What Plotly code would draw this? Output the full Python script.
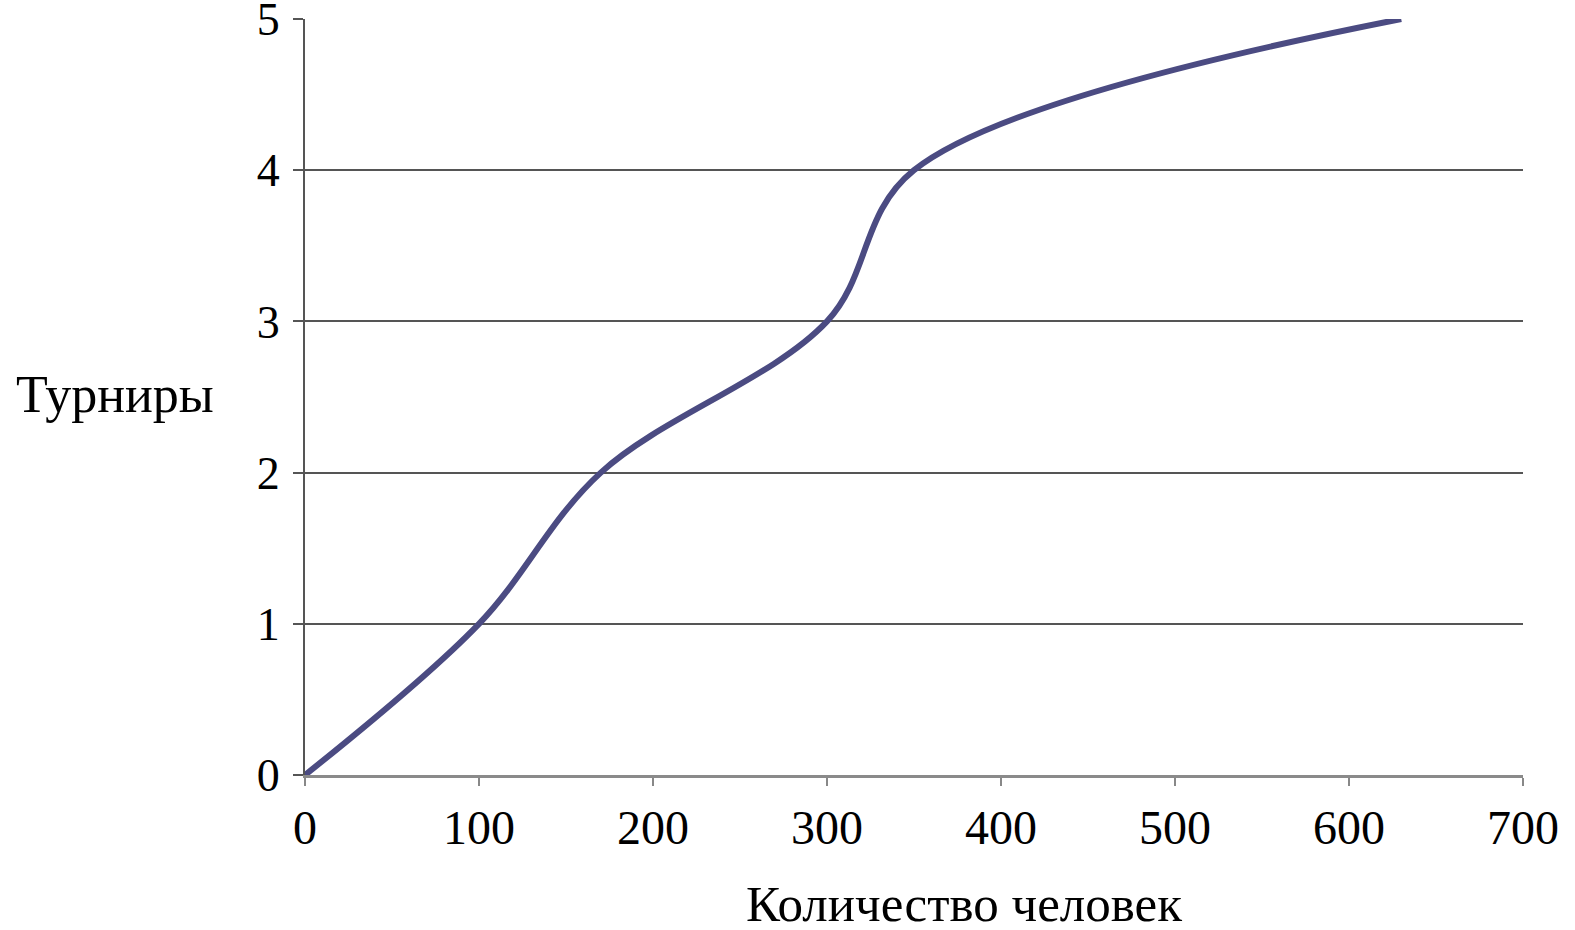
import plotly.graph_objects as go

people = [0, 100, 170, 300, 350, 630]
tournaments = [0, 1, 2, 3, 4, 5]
x_ticks = [0, 100, 200, 300, 400, 500, 600, 700]
y_ticks = [0, 1, 2, 3, 4, 5]
x_title = "Количество человек"
y_title = "Турниры"

font_family = "Liberation Serif, DejaVu Serif, serif"

fig = go.Figure()
fig.add_trace(go.Scatter(
    x=people, y=tournaments, mode="lines",
    line=dict(color="#4b4b82", width=6, shape="spline", smoothing=1.0),
    showlegend=False, hoverinfo="skip", cliponaxis=False,
))

fig.update_layout(
    width=1575, height=930,
    margin=dict(l=305, r=52, t=19, b=155, autoexpand=False),
    paper_bgcolor="white", plot_bgcolor="white",
    font=dict(family=font_family, color="black", size=40),
    xaxis=dict(
        range=[0, 700], tickvals=x_ticks, ticks="outside", ticklen=8, tickwidth=2,
        tickcolor="#888888", showline=True, linecolor="#8a8a8a", linewidth=3,
        showgrid=False, zeroline=False, tickfont=dict(size=48, family=font_family),
        ticklabelstandoff=0, automargin=False, ticklabeloverflow="allow",
    ),
    yaxis=dict(
        range=[0, 5], tickvals=y_ticks, ticks="outside", ticklen=10, tickwidth=2,
        tickcolor="#555555", showline=True, linecolor="#555555", linewidth=2,
        showgrid=True, gridcolor="#555555", gridwidth=2, zeroline=False,
        tickfont=dict(size=46, family=font_family), ticklabelstandoff=4,
        automargin=False, ticklabeloverflow="allow",
    ),
    annotations=[
        dict(text=x_title, xref="paper", yref="paper", x=0.541, y=-0.171,
             xanchor="center", yanchor="middle", showarrow=False,
             font=dict(size=51, family=font_family)),
        dict(text=y_title, xref="paper", yref="paper", x=-0.156, y=0.503,
             xanchor="center", yanchor="middle", showarrow=False,
             font=dict(size=52, family=font_family)),
    ],
)

fig.write_html(
    "out.html",
    config={"displayModeBar": False},
    post_script="document.body.style.margin='0';document.body.style.overflow='hidden';",
)
